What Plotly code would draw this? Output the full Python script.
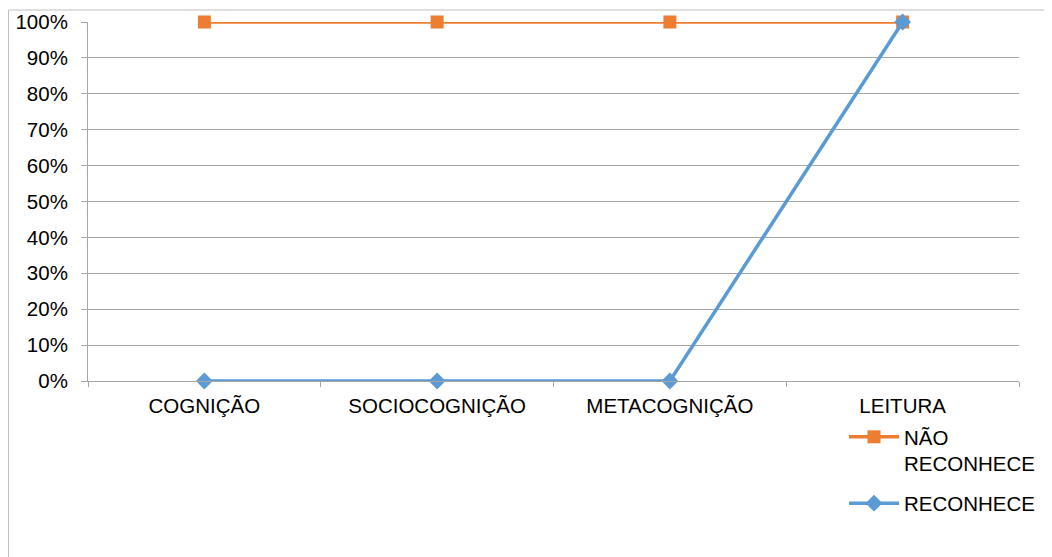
import plotly.graph_objects as go

categories = ["COGNIÇÃO", "SOCIOCOGNIÇÃO", "METACOGNIÇÃO", "LEITURA"]
nao_reconhece = [1.0, 1.0, 1.0, 1.0]
reconhece = [0.0, 0.0, 0.0, 1.0]
y_ticks = [0, 0.1, 0.2, 0.3, 0.4, 0.5, 0.6, 0.7, 0.8, 0.9, 1.0]
y_labels = ["0%", "10%", "20%", "30%", "40%", "50%", "60%", "70%", "80%", "90%", "100%"]

W, H = 1052, 557
# plot area in figure coordinates (page is offset by 8px body margin)
L, R, T, B = 80, 1011, 14, 373

fig = go.Figure()
fig.add_trace(go.Scatter(
    x=categories, y=nao_reconhece, name="NÃO<br>RECONHECE", mode="lines+markers",
    legendgroup="a",
    line=dict(color="#ED7D31", width=3.5),
    marker=dict(symbol="square", size=13, color="#ED7D31"),
    cliponaxis=False,
))
fig.add_trace(go.Scatter(
    x=categories, y=reconhece, name="RECONHECE", mode="lines+markers",
    legendgroup="b",
    line=dict(color="#5B9BD5", width=3.5),
    marker=dict(symbol="diamond", size=13, color="#5B9BD5"),
    cliponaxis=False,
))

FS = 20.5
fig.update_layout(
    width=W, height=H,
    margin=dict(l=L, r=W - R, t=T, b=H - B, pad=0, autoexpand=False),
    paper_bgcolor="white", plot_bgcolor="white",
    font=dict(family="Liberation Sans, Arial, sans-serif", size=FS, color="#000000"),
    showlegend=True,
    legend=dict(x=(836 - L) / (R - L), y=(B - 409) / (B - T), xanchor="left", yanchor="top",
                bgcolor="rgba(0,0,0,0)", font=dict(size=FS), tracegroupgap=10,
                traceorder="grouped", itemwidth=50, valign="top"),
    xaxis=dict(
        type="category", range=[-0.5, 3.5], showgrid=False, automargin=False,
        showline=True, linecolor="#A6A6A6", linewidth=1,
        ticks="outside", tickson="boundaries", ticklen=5, tickcolor="#A6A6A6",
        tickfont=dict(size=FS), fixedrange=True, ticklabelstandoff=6,
    ),
    yaxis=dict(
        range=[0, 1.0], tickvals=y_ticks, ticktext=y_labels, automargin=False,
        showgrid=True, gridcolor="#A6A6A6", gridwidth=1,
        showline=True, linecolor="#A6A6A6", linewidth=1,
        ticks="outside", ticklen=6, tickcolor="#A6A6A6",
        tickfont=dict(size=FS), zeroline=False, fixedrange=True,
        ticklabelstandoff=9,
    ),
)

# outer chart border (top and left visible)
fig.add_shape(type="rect", xref="paper", yref="paper",
              x0=(0.5 - L) / (R - L), x1=(1070 - L) / (R - L),
              y0=(B - 580) / (B - T), y1=(B - 2) / (B - T),
              line=dict(color="#BFBFBF", width=1), layer="below")

fig.write_html("out.html")
